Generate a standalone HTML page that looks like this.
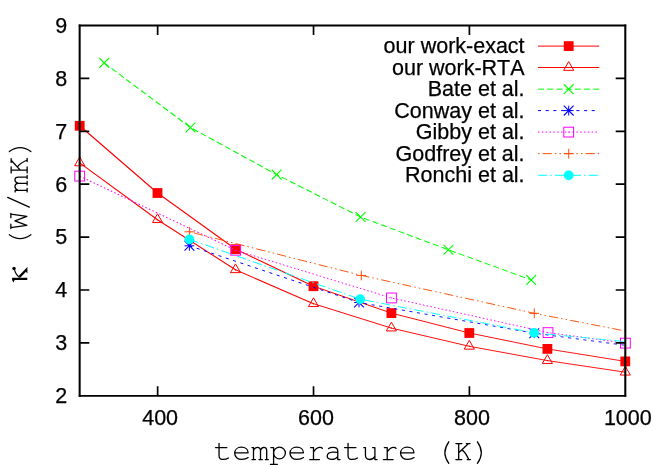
<!DOCTYPE html>
<html><head><meta charset="utf-8"><title>plot</title>
<style>
html,body{margin:0;padding:0;background:#fff;}
body{width:664px;height:465px;overflow:hidden;}
svg{display:block;will-change:transform;}
.s{font-family:"Liberation Sans",sans-serif;font-size:21.5px;fill:#000;font-kerning:none;stroke:#000;stroke-width:0.25px;}
</style></head><body>
<svg width="664" height="465" viewBox="0 0 664 465">
<rect width="664" height="465" fill="#fff"/>
<defs><clipPath id="c"><rect x="79.7" y="25.5" width="545.6" height="370.3"/></clipPath></defs>

<!-- our work-exact -->
<text class="s" x="524.6" y="53.1" text-anchor="end">our work-exact</text>
<path d="M538 46.1H599.25" fill="none" stroke="#ff0000" stroke-width="1.0"/>
<rect x="563.8" y="41.2" width="9.8" height="9.8" fill="#ff0000"/>
<path d="M79.7 125.8L157.5 193" fill="none" stroke="#ff0000" stroke-width="1.14" stroke-linecap="round" clip-path="url(#c)"/>
<path d="M157.5 193L235.7 249.2" fill="none" stroke="#ff0000" stroke-width="1.11" stroke-linecap="round" clip-path="url(#c)"/>
<path d="M235.7 249.2L313.5 286.2" fill="none" stroke="#ff0000" stroke-width="1.04" stroke-linecap="round" clip-path="url(#c)"/>
<path d="M313.5 286.2L391.4 313.1" fill="none" stroke="#ff0000" stroke-width="1" stroke-linecap="round" clip-path="url(#c)"/>
<path d="M391.4 313.1L469.3 333" fill="none" stroke="#ff0000" stroke-width="0.96" stroke-linecap="round" clip-path="url(#c)"/>
<path d="M469.3 333L547.4 348.9" fill="none" stroke="#ff0000" stroke-width="0.94" stroke-linecap="round" clip-path="url(#c)"/>
<path d="M547.4 348.9L625.3 361.4" fill="none" stroke="#ff0000" stroke-width="0.92" stroke-linecap="round" clip-path="url(#c)"/>
<rect x="74.8" y="120.9" width="9.8" height="9.8" fill="#ff0000"/>
<rect x="152.6" y="188.1" width="9.8" height="9.8" fill="#ff0000"/>
<rect x="230.8" y="244.3" width="9.8" height="9.8" fill="#ff0000"/>
<rect x="308.6" y="281.3" width="9.8" height="9.8" fill="#ff0000"/>
<rect x="386.5" y="308.2" width="9.8" height="9.8" fill="#ff0000"/>
<rect x="464.4" y="328.1" width="9.8" height="9.8" fill="#ff0000"/>
<rect x="542.5" y="344" width="9.8" height="9.8" fill="#ff0000"/>
<rect x="620.4" y="356.5" width="9.8" height="9.8" fill="#ff0000"/>
<!-- our work-RTA -->
<text class="s" x="524.6" y="74.5" text-anchor="end">our work-RTA</text>
<path d="M538 67.5H599.25" fill="none" stroke="#ff0000" stroke-width="1.0"/>
<path d="M568.7 61.6L563.65 70.35L573.75 70.35Z" fill="none" stroke="#ff0000" stroke-width="1.0"/><rect x="568.2" y="67" width="1" height="1" fill="#ff0000"/>
<path d="M79.7 162.9L157.5 219.7" fill="none" stroke="#ff0000" stroke-width="1.12" stroke-linecap="round" clip-path="url(#c)"/>
<path d="M157.5 219.7L235.5 269.8" fill="none" stroke="#ff0000" stroke-width="1.09" stroke-linecap="round" clip-path="url(#c)"/>
<path d="M235.5 269.8L313.5 303.7" fill="none" stroke="#ff0000" stroke-width="1.03" stroke-linecap="round" clip-path="url(#c)"/>
<path d="M313.5 303.7L391.4 328.1" fill="none" stroke="#ff0000" stroke-width="0.98" stroke-linecap="round" clip-path="url(#c)"/>
<path d="M391.4 328.1L469.3 346.3" fill="none" stroke="#ff0000" stroke-width="0.95" stroke-linecap="round" clip-path="url(#c)"/>
<path d="M469.3 346.3L547.4 360.6" fill="none" stroke="#ff0000" stroke-width="0.93" stroke-linecap="round" clip-path="url(#c)"/>
<path d="M547.4 360.6L625.3 372.2" fill="none" stroke="#ff0000" stroke-width="0.92" stroke-linecap="round" clip-path="url(#c)"/>
<path d="M79.7 157L74.65 165.75L84.75 165.75Z" fill="none" stroke="#ff0000" stroke-width="1.0"/><rect x="79.2" y="162.4" width="1" height="1" fill="#ff0000"/>
<path d="M157.5 213.8L152.45 222.55L162.55 222.55Z" fill="none" stroke="#ff0000" stroke-width="1.0"/><rect x="157" y="219.2" width="1" height="1" fill="#ff0000"/>
<path d="M235.5 263.9L230.45 272.65L240.55 272.65Z" fill="none" stroke="#ff0000" stroke-width="1.0"/><rect x="235" y="269.3" width="1" height="1" fill="#ff0000"/>
<path d="M313.5 297.8L308.45 306.55L318.55 306.55Z" fill="none" stroke="#ff0000" stroke-width="1.0"/><rect x="313" y="303.2" width="1" height="1" fill="#ff0000"/>
<path d="M391.4 322.2L386.35 330.95L396.45 330.95Z" fill="none" stroke="#ff0000" stroke-width="1.0"/><rect x="390.9" y="327.6" width="1" height="1" fill="#ff0000"/>
<path d="M469.3 340.4L464.25 349.15L474.35 349.15Z" fill="none" stroke="#ff0000" stroke-width="1.0"/><rect x="468.8" y="345.8" width="1" height="1" fill="#ff0000"/>
<path d="M547.4 354.7L542.35 363.45L552.45 363.45Z" fill="none" stroke="#ff0000" stroke-width="1.0"/><rect x="546.9" y="360.1" width="1" height="1" fill="#ff0000"/>
<path d="M625.3 366.3L620.25 375.05L630.35 375.05Z" fill="none" stroke="#ff0000" stroke-width="1.0"/><rect x="624.8" y="371.7" width="1" height="1" fill="#ff0000"/>
<!-- Bate et al. -->
<text class="s" x="524.6" y="96.15" text-anchor="end">Bate et al.</text>
<path d="M538 89.15H599.25" fill="none" stroke="#00ff00" stroke-width="1.0" stroke-dasharray="6.13 3.07"/>
<path d="M563.8 84.25L573.6 94.05M563.8 94.05L573.6 84.25" fill="none" stroke="#00ff00" stroke-width="1.1"/>
<path d="M104.2 62.9L190.5 127.5" fill="none" stroke="#00ff00" stroke-width="1.12" stroke-dasharray="6.13 3.07" stroke-dashoffset="0" clip-path="url(#c)"/>
<path d="M190.5 127.5L276.6 174.6" fill="none" stroke="#00ff00" stroke-width="1.07" stroke-dasharray="6.13 3.07" stroke-dashoffset="6.62" clip-path="url(#c)"/>
<path d="M276.6 174.6L360.6 217" fill="none" stroke="#00ff00" stroke-width="1.05" stroke-dasharray="6.13 3.07" stroke-dashoffset="3.58" clip-path="url(#c)"/>
<path d="M360.6 217L448.4 249.8" fill="none" stroke="#00ff00" stroke-width="1.01" stroke-dasharray="6.13 3.07" stroke-dashoffset="5.7" clip-path="url(#c)"/>
<path d="M448.4 249.8L531.2 279.9" fill="none" stroke="#00ff00" stroke-width="1" stroke-dasharray="6.13 3.07" stroke-dashoffset="7.45" clip-path="url(#c)"/>
<path d="M99.3 58L109.1 67.8M99.3 67.8L109.1 58" fill="none" stroke="#00ff00" stroke-width="1.1"/>
<path d="M185.6 122.6L195.4 132.4M185.6 132.4L195.4 122.6" fill="none" stroke="#00ff00" stroke-width="1.1"/>
<path d="M271.7 169.7L281.5 179.5M271.7 179.5L281.5 169.7" fill="none" stroke="#00ff00" stroke-width="1.1"/>
<path d="M355.7 212.1L365.5 221.9M355.7 221.9L365.5 212.1" fill="none" stroke="#00ff00" stroke-width="1.1"/>
<path d="M443.5 244.9L453.3 254.7M443.5 254.7L453.3 244.9" fill="none" stroke="#00ff00" stroke-width="1.1"/>
<path d="M526.3 275L536.1 284.8M526.3 284.8L536.1 275" fill="none" stroke="#00ff00" stroke-width="1.1"/>
<!-- Conway et al. -->
<text class="s" x="524.6" y="117.6" text-anchor="end">Conway et al.</text>
<path d="M538 110.6H599.25" fill="none" stroke="#0000ff" stroke-width="1.0" stroke-dasharray="3.07 4.6"/>
<path d="M563.8 110.6L573.6 110.6M568.7 105.7L568.7 115.5" fill="none" stroke="#0000ff" stroke-width="1.0"/><path d="M563.8 105.7L573.6 115.5M563.8 115.5L573.6 105.7" fill="none" stroke="#0000ff" stroke-width="1.1"/>
<path d="M189.4 245.8L359 302.5" fill="none" stroke="#0000ff" stroke-width="0.99" stroke-dasharray="3.07 4.6" stroke-dashoffset="0" clip-path="url(#c)"/>
<path d="M359 302.5L534.3 333.2" fill="none" stroke="#0000ff" stroke-width="0.93" stroke-dasharray="3.07 4.6" stroke-dashoffset="2.53" clip-path="url(#c)"/>
<path d="M534.3 333.2L625.3 345.3" fill="none" stroke="#0000ff" stroke-width="0.91" stroke-dasharray="3.07 4.6" stroke-dashoffset="4.2" clip-path="url(#c)"/>
<path d="M184.5 245.8L194.3 245.8M189.4 240.9L189.4 250.7" fill="none" stroke="#0000ff" stroke-width="1.0"/><path d="M184.5 240.9L194.3 250.7M184.5 250.7L194.3 240.9" fill="none" stroke="#0000ff" stroke-width="1.1"/>
<path d="M354.1 302.5L363.9 302.5M359 297.6L359 307.4" fill="none" stroke="#0000ff" stroke-width="1.0"/><path d="M354.1 297.6L363.9 307.4M354.1 307.4L363.9 297.6" fill="none" stroke="#0000ff" stroke-width="1.1"/>
<path d="M529.4 333.2L539.2 333.2M534.3 328.3L534.3 338.1" fill="none" stroke="#0000ff" stroke-width="1.0"/><path d="M529.4 328.3L539.2 338.1M529.4 338.1L539.2 328.3" fill="none" stroke="#0000ff" stroke-width="1.1"/>
<!-- Gibby et al. -->
<text class="s" x="524.6" y="139.1" text-anchor="end">Gibby et al.</text>
<path d="M538 132.1H599.25" fill="none" stroke="#ff00ff" stroke-width="1.0" stroke-dasharray="1.53 2.3"/>
<rect x="563.8" y="127.2" width="9.8" height="9.8" fill="none" stroke="#ff00ff" stroke-width="1.0"/><rect x="568.2" y="131.6" width="1" height="1" fill="#ff00ff"/>
<path d="M79.7 176.1L235.7 250.3" fill="none" stroke="#ff00ff" stroke-width="1.04" stroke-dasharray="1.53 2.3" stroke-dashoffset="0" clip-path="url(#c)"/>
<path d="M235.7 250.3L391.45 297.95" fill="none" stroke="#ff00ff" stroke-width="0.98" stroke-dasharray="1.53 2.3" stroke-dashoffset="0.28" clip-path="url(#c)"/>
<path d="M391.45 297.95L548 332.6" fill="none" stroke="#ff00ff" stroke-width="0.95" stroke-dasharray="1.53 2.3" stroke-dashoffset="2.2" clip-path="url(#c)"/>
<path d="M548 332.6L625.4 343.15" fill="none" stroke="#ff00ff" stroke-width="0.91" stroke-dasharray="1.53 2.3" stroke-dashoffset="1.57" clip-path="url(#c)"/>
<rect x="74.8" y="171.2" width="9.8" height="9.8" fill="none" stroke="#ff00ff" stroke-width="1.0"/><rect x="79.2" y="175.6" width="1" height="1" fill="#ff00ff"/>
<rect x="230.8" y="245.4" width="9.8" height="9.8" fill="none" stroke="#ff00ff" stroke-width="1.0"/><rect x="235.2" y="249.8" width="1" height="1" fill="#ff00ff"/>
<rect x="386.55" y="293.05" width="9.8" height="9.8" fill="none" stroke="#ff00ff" stroke-width="1.0"/><rect x="390.95" y="297.45" width="1" height="1" fill="#ff00ff"/>
<rect x="543.1" y="327.7" width="9.8" height="9.8" fill="none" stroke="#ff00ff" stroke-width="1.0"/><rect x="547.5" y="332.1" width="1" height="1" fill="#ff00ff"/>
<rect x="620.5" y="338.25" width="9.8" height="9.8" fill="none" stroke="#ff00ff" stroke-width="1.0"/><rect x="624.9" y="342.65" width="1" height="1" fill="#ff00ff"/>
<!-- Godfrey et al. -->
<text class="s" x="524.6" y="160.65" text-anchor="end">Godfrey et al.</text>
<path d="M538 153.65H599.25" fill="none" stroke="#ff4d00" stroke-width="1.0" stroke-dasharray="1.53 3.07 9.2 3.07 1.53 3.07"/>
<path d="M563.8 153.65L573.6 153.65M568.7 148.75L568.7 158.55" fill="none" stroke="#ff4d00" stroke-width="1.0"/>
<path d="M189.4 231.8L361.3 275.4" fill="none" stroke="#ff4d00" stroke-width="0.96" stroke-dasharray="1.53 3.07 9.2 3.07 1.53 3.07" stroke-dashoffset="0" clip-path="url(#c)"/>
<path d="M361.3 275.4L534.3 313.3" fill="none" stroke="#ff4d00" stroke-width="0.95" stroke-dasharray="1.53 3.07 9.2 3.07 1.53 3.07" stroke-dashoffset="5.65" clip-path="url(#c)"/>
<path d="M534.3 313.3L625.3 331" fill="none" stroke="#ff4d00" stroke-width="0.94" stroke-dasharray="1.53 3.07 9.2 3.07 1.53 3.07" stroke-dashoffset="11.05" clip-path="url(#c)"/>
<path d="M184.5 231.8L194.3 231.8M189.4 226.9L189.4 236.7" fill="none" stroke="#ff4d00" stroke-width="1.0"/>
<path d="M356.4 275.4L366.2 275.4M361.3 270.5L361.3 280.3" fill="none" stroke="#ff4d00" stroke-width="1.0"/>
<path d="M529.4 313.3L539.2 313.3M534.3 308.4L534.3 318.2" fill="none" stroke="#ff4d00" stroke-width="1.0"/>
<!-- Ronchi et al. -->
<text class="s" x="524.6" y="182.3" text-anchor="end">Ronchi et al.</text>
<path d="M538 175.3H599.25" fill="none" stroke="#00ffff" stroke-width="1.0" stroke-dasharray="9.2 3.07 1.53 3.07"/>
<circle cx="568.7" cy="175.3" r="4.9" fill="#00ffff"/>
<path d="M189.4 239.4L360.2 299.2" fill="none" stroke="#00ffff" stroke-width="1" stroke-dasharray="9.2 3.07 1.53 3.07" stroke-dashoffset="0" clip-path="url(#c)"/>
<path d="M360.2 299.2L534.1 332.8" fill="none" stroke="#00ffff" stroke-width="0.94" stroke-dasharray="9.2 3.07 1.53 3.07" stroke-dashoffset="12.34" clip-path="url(#c)"/>
<path d="M534.1 332.8L625.3 341.6" fill="none" stroke="#00ffff" stroke-width="0.89" stroke-dasharray="9.2 3.07 1.53 3.07" stroke-dashoffset="3.96" clip-path="url(#c)"/>
<circle cx="189.4" cy="239.4" r="4.9" fill="#00ffff"/>
<circle cx="360.2" cy="299.2" r="4.9" fill="#00ffff"/>
<circle cx="534.1" cy="332.8" r="4.9" fill="#00ffff"/>
<!-- axes -->
<path d="M79.7 342.9h9.6M625.3 342.9h-9.6M79.7 290h9.6M625.3 290h-9.6M79.7 237.1h9.6M625.3 237.1h-9.6M79.7 184.2h9.6M625.3 184.2h-9.6M79.7 131.3h9.6M625.3 131.3h-9.6M79.7 78.4h9.6M625.3 78.4h-9.6M157.64 395.8v-9.6M157.64 25.5v9.6M313.53 395.8v-9.6M313.53 25.5v9.6M469.41 395.8v-9.6M469.41 25.5v9.6" fill="none" stroke="#000" stroke-width="1.7"/>
<path d="M79.7 25.5H625.3M79.7 395.8H625.3" fill="none" stroke="#000" stroke-width="1.84" stroke-linecap="square"/>
<path d="M79.65 25.5V395.8M625.3 25.5V395.8" fill="none" stroke="#000" stroke-width="2.05" stroke-linecap="square"/>
<text class="s" x="67.3" y="403.15" text-anchor="end">2</text>
<text class="s" x="67.3" y="350.25" text-anchor="end">3</text>
<text class="s" x="67.3" y="297.35" text-anchor="end">4</text>
<text class="s" x="67.3" y="244.45" text-anchor="end">5</text>
<text class="s" x="67.3" y="191.55" text-anchor="end">6</text>
<text class="s" x="67.3" y="138.65" text-anchor="end">7</text>
<text class="s" x="67.3" y="85.75" text-anchor="end">8</text>
<text class="s" x="67.3" y="32.85" text-anchor="end">9</text>
<text class="s" x="160.14" y="424.7" text-anchor="middle">400</text>
<text class="s" x="316.03" y="424.7" text-anchor="middle">600</text>
<text class="s" x="471.91" y="424.7" text-anchor="middle">800</text>
<text class="s" x="627.8" y="424.7" text-anchor="middle">1000</text>
<!-- axis labels -->
<g fill="none" stroke="#000" stroke-width="1.3" stroke-linecap="round" stroke-linejoin="round">
<path transform="translate(212.6 459.6)" d="M6.45 -16.2V-3.8C6.45 -1 8.2 -0.15 10.6 -0.15C12.6 -0.15 14.4 -0.7 15.9 -1.6M2.9 -12H14.3"/>
<path transform="translate(231.03 459.6)" d="M3.77 -6.8H17.07C17.07 -10 14.37 -12.4 10.37 -12.4C6.37 -12.4 3.67 -9.8 3.67 -6.3C3.67 -2.8 6.57 -0.2 10.77 -0.2C13.37 -0.2 15.57 -0.8 17.17 -2"/>
<path transform="translate(249.46 459.6)" d="M2.5 -12H4.04V0M2.5 0H6M4.04 -9.2C4.8 -11 6.2 -12.2 7.8 -12.2C9.9 -12.2 11.04 -10.9 11.04 -8.8V0M9.5 0H12.9M11.04 -9.2C11.7 -11 13 -12.2 14.4 -12.2C16.3 -12.2 17.24 -10.9 17.24 -8.8V0M15.8 0H18.9"/>
<path transform="translate(267.89 459.6)" d="M3 -12H5.7V4.85M2.6 4.85H9.4M5.7 -6.6A5.9 5.8 0 1 1 17.5 -6.6A5.9 5.8 0 1 1 5.7 -6.6"/>
<path transform="translate(286.32 459.6)" d="M3.77 -6.8H17.07C17.07 -10 14.37 -12.4 10.37 -12.4C6.37 -12.4 3.67 -9.8 3.67 -6.3C3.67 -2.8 6.57 -0.2 10.77 -0.2C13.37 -0.2 15.57 -0.8 17.17 -2"/>
<path transform="translate(304.75 459.6)" d="M5.9 -12H8.75V0M4.95 0H14.65M8.75 -7.6C10.5 -10.4 12.8 -12.2 15.2 -12.2C16.4 -12.2 17.2 -11.8 17.6 -11.2"/>
<path transform="translate(323.18 459.6)" d="M5.4 -11C6.6 -11.9 8 -12.3 9.8 -12.3C12.8 -12.3 14.6 -11.2 14.6 -8.6V0H16.8M14.6 -7.2C12.8 -7.4 11.2 -7.5 9.6 -7.4C6.2 -7.2 4.05 -5.8 4.05 -3.4C4.05 -1.4 5.8 -0.15 8.6 -0.15C11 -0.15 13.2 -1.2 14.6 -3"/>
<path transform="translate(341.61 459.6)" d="M6.45 -16.2V-3.8C6.45 -1 8.2 -0.15 10.6 -0.15C12.6 -0.15 14.4 -0.7 15.9 -1.6M2.9 -12H14.3"/>
<path transform="translate(360.04 459.6)" d="M3.76 -12H5.4V-4.6C5.4 -1.6 7 -0.1 9.6 -0.1C12 -0.1 13.8 -1.2 14.86 -3.2M12.5 -12H14.86V0H17.06"/>
<path transform="translate(378.47 459.6)" d="M5.9 -12H8.75V0M4.95 0H14.65M8.75 -7.6C10.5 -10.4 12.8 -12.2 15.2 -12.2C16.4 -12.2 17.2 -11.8 17.6 -11.2"/>
<path transform="translate(396.9 459.6)" d="M3.77 -6.8H17.07C17.07 -10 14.37 -12.4 10.37 -12.4C6.37 -12.4 3.67 -9.8 3.67 -6.3C3.67 -2.8 6.57 -0.2 10.77 -0.2C13.37 -0.2 15.57 -0.8 17.17 -2"/>
<path transform="translate(433.76 459.6)" d="M15.04 -17.8Q7.24 -7.05 15.04 3.7"/>
<path transform="translate(452.19 459.6)" d="M3.7 -16H9.7M3.7 0H9.7M6.5 -16V0M6.5 -6.9L16.4 -16M14.1 -16H17.85M9.6 -9.7C12 -8.5 14.5 -4.5 16.6 0M15 0H18.3"/>
<path transform="translate(470.62 459.6)" d="M6.78 -17.8Q14.58 -7.05 6.78 3.7"/>
<path transform="translate(27.15 158.3) rotate(-90)" d="M6.78 -17.8Q14.58 -7.05 6.78 3.7"/>
<path transform="translate(27.15 176.6) rotate(-90)" d="M3.7 -16H9.7M3.7 0H9.7M6.5 -16V0M6.5 -6.9L16.4 -16M14.1 -16H17.85M9.6 -9.7C12 -8.5 14.5 -4.5 16.6 0M15 0H18.3"/>
<path transform="translate(27.15 194.4) rotate(-90)" d="M2.5 -12H4.04V0M2.5 0H6M4.04 -9.2C4.8 -11 6.2 -12.2 7.8 -12.2C9.9 -12.2 11.04 -10.9 11.04 -8.8V0M9.5 0H12.9M11.04 -9.2C11.7 -11 13 -12.2 14.4 -12.2C16.3 -12.2 17.24 -10.9 17.24 -8.8V0M15.8 0H18.9"/>
<path transform="translate(27.15 212.9) rotate(-90)" d="M5.75 2.15L15.45 -19.45"/>
<path transform="translate(27.15 230.2) rotate(-90)" d="M1.65 -16.3H5.95M12.55 -16.3H16.85M2.5 -16.3L4.8 -0.3L9.3 -12.2L13.8 -0.3L16.1 -16.3"/>
<path transform="translate(27.15 249.7) rotate(-90)" d="M15.04 -17.8Q7.24 -7.05 15.04 3.7"/>
</g>
<g fill="#000" stroke="none"><path d="M12.1 277.7H27.3V279.9H14.6L13.4 282.6L12.1 279.9Z"/><path d="M18.4 276.3L27.4 266.9L27.4 273.5L25.9 271.8L20.5 277.6Z"/><circle cx="14" cy="268.4" r="1.75"/></g>
<path d="M19.4 277.3C16.4 274.9 14.9 272.2 14.5 269.4" fill="none" stroke="#000" stroke-width="1.05" stroke-linecap="round"/>
</svg></body></html>
